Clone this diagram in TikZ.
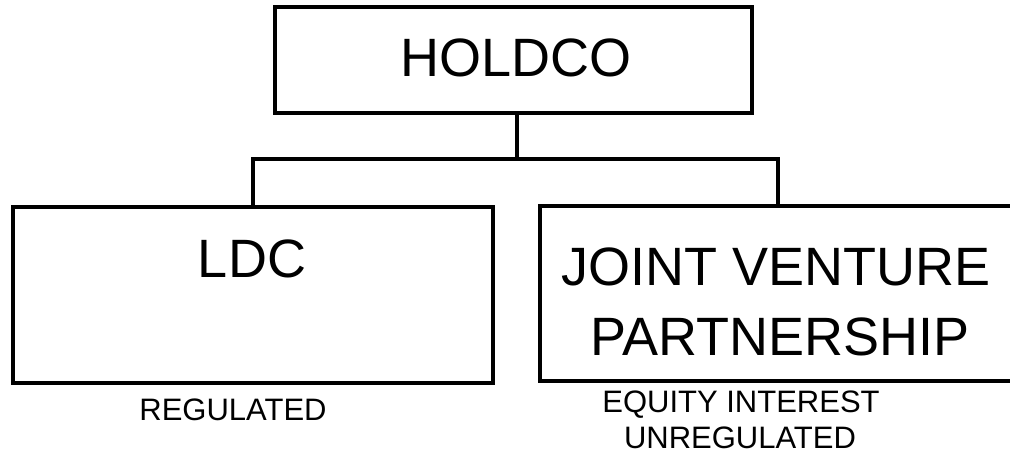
\documentclass[tikz,border=0pt]{standalone}
\usepackage{fontspec}
\setmainfont{Liberation Sans}
\begin{document}
\begin{tikzpicture}[x=1pt,y=-1pt,
  box/.style={draw, line width=4pt, rectangle, inner sep=0pt},
  big/.style={font=\fontsize{54}{60}\selectfont, anchor=base, inner sep=0pt},
  small/.style={font=\fontsize{31}{36}\selectfont, anchor=base, inner sep=0pt},
  link/.style={line width=3.5pt}]
\useasboundingbox (0,0) rectangle (1010,460);

% entity boxes
\node[box, minimum width=477pt, minimum height=106pt] (holdco) at (513.5,60) {};
\node[box, minimum width=480pt, minimum height=176pt] (ldc) at (253,295) {};
\node[box, minimum width=476pt, minimum height=175pt] (jv) at (778,293.5) {};

% box titles
\node[big] (holdcotext) at (516,77) {HOLDCO};
\node[big] (ldctext) at (252,277) {LDC};
\node[big] (jvtext1) at (776,285) {JOINT VENTURE};
\node[big] (jvtext2) at (780,355) {PARTNERSHIP};

% status notes under the boxes
\node[small] (ldcnote) at (233,420) {REGULATED};
\node[small] (jvnote1) at (741,412) {EQUITY INTEREST};
\node[small] (jvnote2) at (740,448) {UNREGULATED};

% ownership tree
\coordinate (bus) at (517,159);
\draw[link] (holdco.south -| bus) -- (bus);
\draw[link] (ldc.north) |- (bus) -| (jv.north);
\end{tikzpicture}
\end{document}
